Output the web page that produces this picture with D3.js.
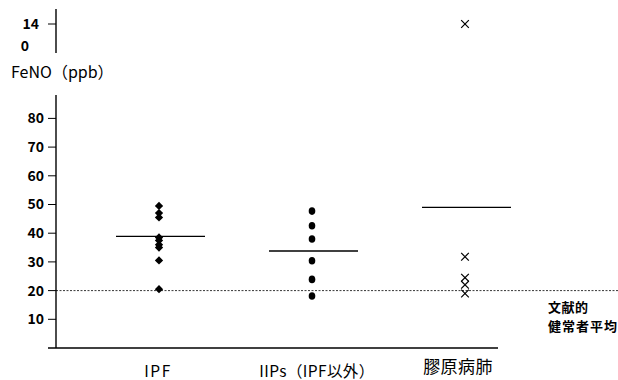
<!DOCTYPE html>
<html>
<head>
<meta charset="utf-8">
<script src="https://cdn.jsdelivr.net/npm/d3@7"></script>
<style>
  body { margin: 0; background: #fff; }
  svg { display: block; font-family: "Noto Sans CJK JP", "DejaVu Sans", sans-serif; }
</style>
</head>
<body>
<svg id="chart" width="618" height="380"></svg>
<script>
// groups and values
const categories = ["IPF", "IIPs（IPF以外）", "膠原病肺"];
const ipfValues = [49.5, 47, 45.5, 38.5, 37.5, 36, 35, 30.5, 20.5];
const iipsValues = [47.7, 42.6, 38, 30.4, 23.9, 18.1];
const collagenValues = [140, 31.8, 24.5, 22, 19];
const means = [38.9, 33.8, 49];
const normalMean = 20;
const lowerTicks = [10, 20, 30, 40, 50, 60, 70, 80];

const svg = d3.select("#chart");

// y is broken: 0-80 below, 140 above the gap
const y = d3.scaleLinear().domain([0, 80, 140]).range([348, 118.4, 24]);
const x = d3.scalePoint().domain(categories).range([159, 465]);

// axes
svg.append("line").attr("x1", 56).attr("x2", 56).attr("y1", 95).attr("y2", 348)
    .attr("stroke", "#000").attr("stroke-width", 1.4);
svg.append("line").attr("x1", 56).attr("x2", 56).attr("y1", 9).attr("y2", 53)
    .attr("stroke", "#000").attr("stroke-width", 1.4);
svg.append("line").attr("x1", 48).attr("x2", 498).attr("y1", 348).attr("y2", 348)
    .attr("stroke", "#000").attr("stroke-width", 1.4);

const tickG = svg.append("g");
tickG.selectAll("line").data(lowerTicks.concat([140])).join("line")
    .attr("x1", 48).attr("x2", 56)
    .attr("y1", d => y(d)).attr("y2", d => y(d))
    .attr("stroke", "#000").attr("stroke-width", 1);
tickG.selectAll("text").data(lowerTicks).join("text")
    .attr("x", 44).attr("y", d => y(d))
    .attr("dy", "0.35em").attr("text-anchor", "end")
    .attr("font-size", 14).attr("font-weight", "bold")
    .text(d => d);

// 140 wraps onto two lines in the original
svg.append("text").attr("x", 39).attr("y", y(140)).attr("dy", "0.35em")
    .attr("text-anchor", "end").attr("font-size", 14).attr("font-weight", "bold").text("14");
svg.append("text").attr("x", 29).attr("y", 46).attr("dy", "0.35em")
    .attr("text-anchor", "end").attr("font-size", 14).attr("font-weight", "bold").text("0");

svg.append("text").attr("x", 11).attr("y", 72).attr("dy", "0.35em")
    .attr("font-size", 16).text("FeNO（ppb）");

// normal mean reference line
svg.append("line").attr("x1", 56).attr("x2", 618)
    .attr("y1", y(normalMean)).attr("y2", y(normalMean))
    .attr("stroke", "#000").attr("stroke-width", 0.8).attr("stroke-dasharray", "2,1.5");
svg.append("text").attr("x", 548).attr("y", 307.5).attr("dy", "0.35em")
    .attr("font-size", 13).attr("font-weight", "bold").attr("letter-spacing", 0.5).text("文献的");
svg.append("text").attr("x", 548).attr("y", 326.5).attr("dy", "0.35em")
    .attr("font-size", 13).attr("font-weight", "bold").attr("letter-spacing", 1).text("健常者平均");

// mean lines
svg.selectAll(".mean").data(means).join("line")
    .attr("class", "mean")
    .attr("x1", (d, i) => x(categories[i]) - 43)
    .attr("x2", (d, i) => x(categories[i]) + 46)
    .attr("y1", d => y(d)).attr("y2", d => y(d))
    .attr("stroke", "#000").attr("stroke-width", 1.3);

// IPF diamonds
svg.selectAll(".ipf").data(ipfValues).join("path")
    .attr("class", "ipf")
    .attr("d", d3.symbol(d3.symbolDiamond2, 44)())
    .attr("transform", d => `translate(${x(categories[0])},${y(d)})`)
    .attr("fill", "#000");

// IIPs dots
svg.selectAll(".iips").data(iipsValues).join("ellipse")
    .attr("class", "iips")
    .attr("cx", x(categories[1])).attr("cy", d => y(d))
    .attr("rx", 3.3).attr("ry", 3.8)
    .attr("fill", "#000");

// collagen crosses
svg.selectAll(".coll").data(collagenValues).join("path")
    .attr("class", "coll")
    .attr("d", d3.symbol(d3.symbolTimes, 40)())
    .attr("transform", d => `translate(${x(categories[2])},${y(d)})`)
    .attr("fill", "none").attr("stroke", "#000").attr("stroke-width", 1.2);

// category labels (baselines)
const labelX = [158, 317, 458];
svg.selectAll(".cat").data(categories).join("text")
    .attr("class", "cat")
    .attr("x", (d, i) => labelX[i])
    .attr("y", (d, i) => i === 2 ? 373 : 376.5)
    .attr("text-anchor", "middle")
    .attr("font-size", (d, i) => i === 2 ? 17 : 15.5)
    .attr("letter-spacing", (d, i) => i === 0 ? 1.5 : 0.4)
    .text(d => d);
</script>
</body>
</html>
